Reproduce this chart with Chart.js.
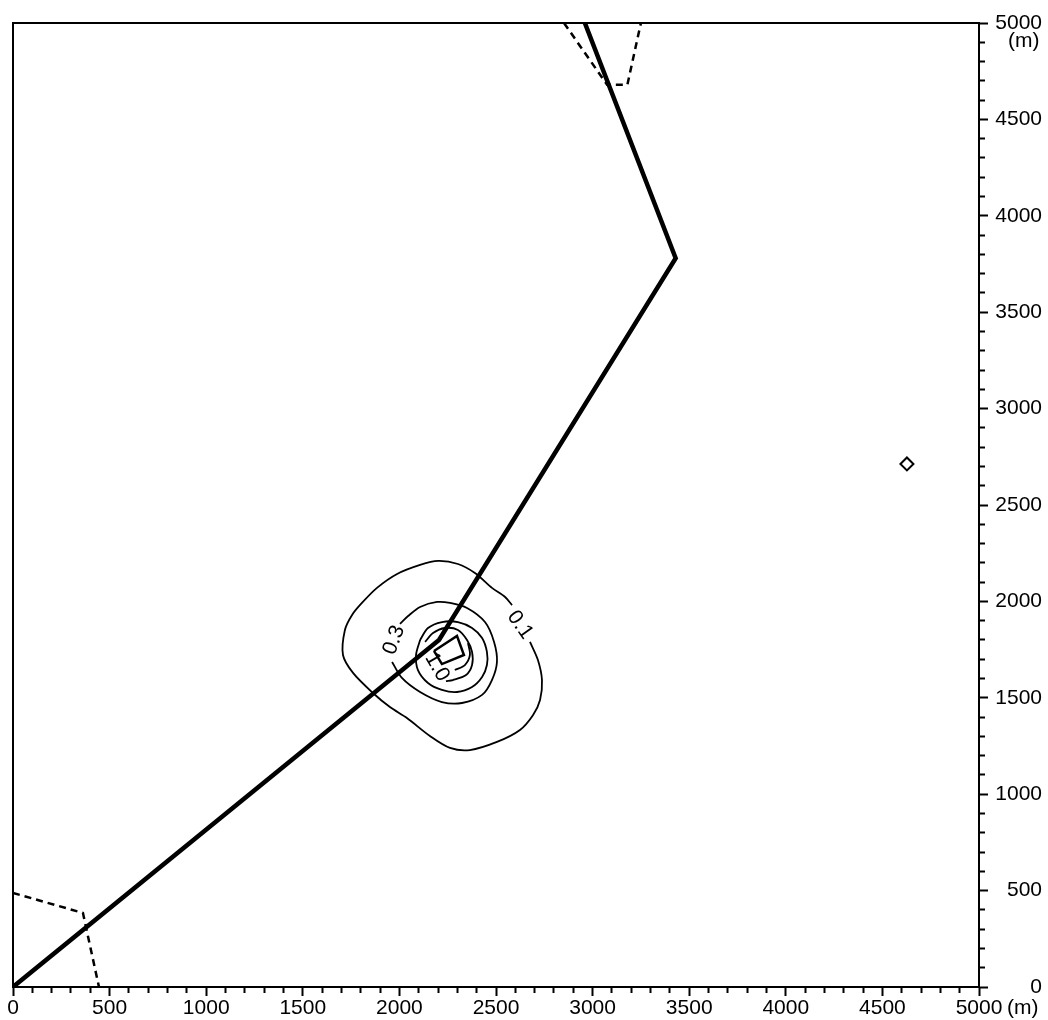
<!DOCTYPE html>
<html>
<head>
<meta charset="utf-8">
<script src="https://cdn.jsdelivr.net/npm/chart.js@4.4.0/dist/chart.umd.min.js"></script>
<style>
html,body{margin:0;padding:0;background:#fff;}
#wrap{width:1048px;height:1020px;position:relative;}
</style>
</head>
<body>
<div id="wrap"><canvas id="plot"></canvas></div>
<script>
// axis range in metres
var axisMin = 0, axisMax = 5000;
var majorStep = 500, minorStep = 100;
var unitLabel = '(m)';

// road (thick line)
var roadX = [0, 2205, 3430, 2960];
var roadY = [0, 1800, 3780, 5000];

// dashed boundaries
var bound1X = [0, 362, 445];
var bound1Y = [488, 384, 0];
var bound2X = [2852, 3075, 3180, 3250];
var bound2Y = [5000, 4680, 4680, 5000];

// contour 0.1 (gap for label)
var c01X = [2676, 2717, 2738, 2728, 2692, 2624, 2505, 2365, 2262, 2158, 2039, 1951, 1863, 1760, 1708, 1718, 1755, 1806, 1884, 1988, 2107, 2200, 2303, 2391, 2479, 2547, 2583];
var c01Y = [1790, 1696, 1592, 1489, 1411, 1333, 1271, 1229, 1240, 1302, 1395, 1452, 1525, 1629, 1722, 1852, 1930, 1992, 2070, 2142, 2189, 2210, 2194, 2147, 2070, 2023, 1981];
// contour 0.3 (gap for label)
var c03X = [1962, 2013, 2107, 2220, 2324, 2428, 2479, 2505, 2490, 2443, 2350, 2262, 2195, 2107, 2045, 2003];
var c03Y = [1686, 1603, 1530, 1478, 1473, 1515, 1592, 1686, 1790, 1893, 1966, 1992, 1997, 1971, 1924, 1883];
// contour 0.5
var c05X = [2107, 2148, 2220, 2303, 2376, 2428, 2453, 2453, 2428, 2376, 2298, 2220, 2148, 2096, 2086, 2107];
var c05Y = [1800, 1862, 1893, 1893, 1862, 1810, 1738, 1670, 1608, 1556, 1530, 1541, 1577, 1644, 1722, 1800];
// contour 1.0 (gap for label)
var c10X = [2133, 2174, 2236, 2303, 2350, 2376, 2376, 2345, 2277, 2241];
var c10Y = [1790, 1836, 1862, 1852, 1800, 1738, 1670, 1618, 1592, 1587];
// innermost arc
var c15X = [2287, 2339, 2365, 2355];
var c15Y = [1644, 1670, 1722, 1784];

// source (square)
var srcX = [2179, 2298, 2334, 2220, 2179];
var srcY = [1743, 1821, 1722, 1675, 1743];

// receptor (diamond)
var recX = [4627];
var recY = [2713];

// contour labels
var lblText = ['0.1', '0.3', '1.0'];
var lblX = [2624, 1972, 2195];
var lblY = [1878, 1800, 1660];
var lblAngle = [55, -70, 60];

function pts(xs, ys){
  return xs.map(function(x, i){ return {x: x, y: ys[i]}; });
}

function lineSet(xs, ys, w, dash, tension){
  return {
    data: pts(xs, ys),
    showLine: true,
    borderColor: '#000',
    borderWidth: w,
    borderDash: dash || [],
    pointRadius: 0,
    tension: tension || 0,
    fill: false
  };
}

var isMajor = function(c){ return c.tick && c.tick.value % majorStep === 0; };

var extras = {
  id: 'extras',
  afterDraw: function(chart){
    var ctx = chart.ctx, a = chart.chartArea;
    var sx = chart.scales.x, sy = chart.scales.y;
    ctx.save();
    ctx.strokeStyle = '#000';
    ctx.lineWidth = 2;
    ctx.beginPath();
    ctx.moveTo(a.left, a.bottom);
    ctx.lineTo(a.left, a.top);
    ctx.lineTo(a.right, a.top);
    ctx.stroke();

    ctx.fillStyle = '#000';
    ctx.font = '21px "Liberation Sans"';
    ctx.textAlign = 'center';
    ctx.textBaseline = 'middle';
    for (var i = 0; i < lblText.length; i++){
      ctx.save();
      ctx.translate(sx.getPixelForValue(lblX[i]), sy.getPixelForValue(lblY[i]));
      ctx.rotate(lblAngle[i] * Math.PI / 180);
      ctx.fillText(lblText[i], 0, 0);
      ctx.restore();
    }
    // unit labels next to the 5000 ticks
    ctx.textAlign = 'left';
    ctx.fillText(unitLabel, sx.getPixelForValue(axisMax) + 28, sx.top + 21);
    ctx.fillText(unitLabel, sx.getPixelForValue(axisMax) + 29, sy.getPixelForValue(axisMax) + 18);
    ctx.restore();
  }
};

Chart.defaults.font.family = '"Liberation Sans", Arial, sans-serif';
Chart.defaults.font.size = 21;
Chart.defaults.color = '#000';

var recSet = {
  data: pts(recX, recY),
  pointStyle: 'rectRot',
  pointRadius: 6.5,
  pointBorderWidth: 2,
  pointBorderColor: '#000',
  pointBackgroundColor: '#fff',
  showLine: false
};
var recTick = {
  data: pts(recX, recY.map(function(v){ return v + 15; })),
  pointStyle: 'line',
  pointRotation: 90,
  pointRadius: 3,
  pointBorderWidth: 2,
  pointBorderColor: '#000',
  showLine: false
};

var ctx = document.getElementById('plot').getContext('2d');
var chart = new Chart(ctx, {
  type: 'scatter',
  data: {
    datasets: [
      lineSet(c01X, c01Y, 1.8, null, 0.3),
      lineSet(c03X, c03Y, 1.8, null, 0.3),
      lineSet(c05X, c05Y, 1.8, null, 0.3),
      lineSet(c10X, c10Y, 1.8, null, 0.3),
      lineSet(c15X, c15Y, 1.8, null, 0.3),
      lineSet(bound1X, bound1Y, 2.5, [7, 5]),
      lineSet(bound2X, bound2Y, 2.5, [7, 5]),
      lineSet(roadX, roadY, 4.5),
      lineSet(srcX, srcY, 2.5),
      recSet,
      recTick
    ]
  },
  options: {
    responsive: true,
    maintainAspectRatio: false,
    animation: false,
    layout: {padding: {left: 13, top: 23, right: 6, bottom: 0}},
    plugins: {legend: {display: false}, tooltip: {enabled: false}},
    scales: {
      x: {
        type: 'linear',
        position: 'bottom',
        min: axisMin,
        max: axisMax,
        afterFit: function(s){ s.height = 33; },
        border: {display: true, color: '#000', width: 2},
        grid: {
          drawOnChartArea: false,
          drawTicks: true,
          tickLength: 9,
          tickWidth: 2,
          tickColor: '#000',
          tickBorderDash: function(c){ return isMajor(c) ? [] : [5, 60]; }
        },
        ticks: {
          stepSize: minorStep,
          autoSkip: false,
          maxRotation: 0,
          padding: 0,
          callback: function(v){ return v % majorStep === 0 ? String(v) : ''; }
        }
      },
      y: {
        type: 'linear',
        position: 'right',
        min: axisMin,
        max: axisMax,
        afterFit: function(s){ s.width = 63; },
        border: {display: true, color: '#000', width: 2},
        grid: {
          drawOnChartArea: false,
          drawTicks: true,
          tickLength: 9,
          tickWidth: 2,
          tickColor: '#000',
          tickBorderDash: function(c){ return isMajor(c) ? [] : [5, 60]; }
        },
        ticks: {
          stepSize: minorStep,
          autoSkip: false,
          crossAlign: 'far',
          padding: 7,
          callback: function(v){ return v % majorStep === 0 ? String(v) : ''; }
        }
      }
    }
  },
  plugins: [extras]
});
</script>
</body>
</html>
